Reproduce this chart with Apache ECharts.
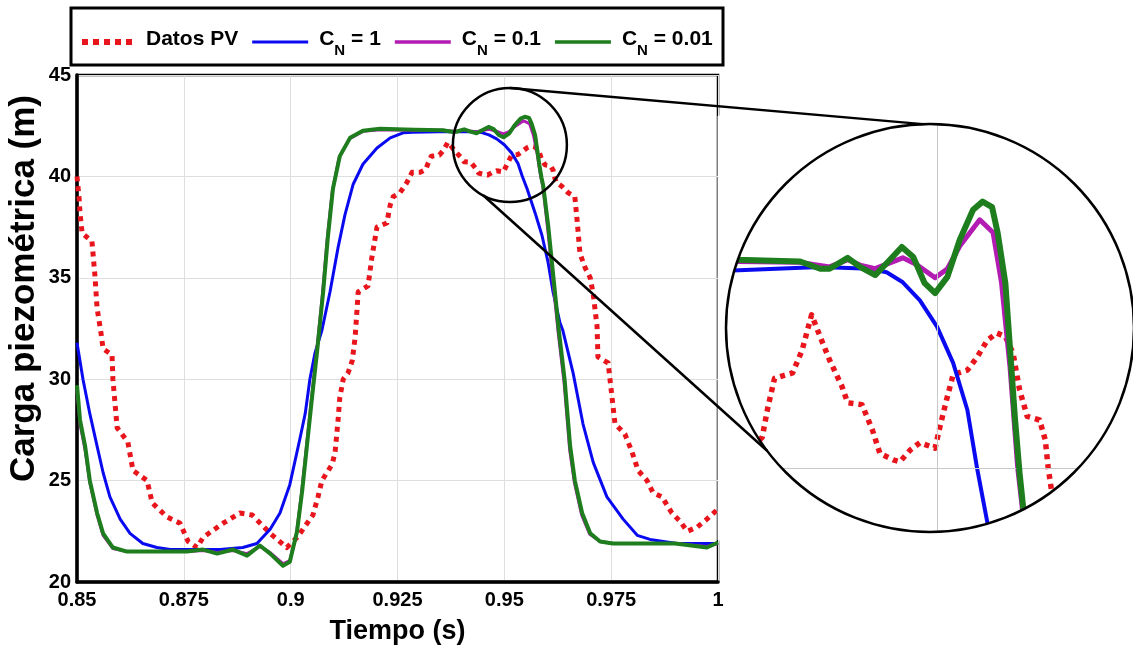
<!DOCTYPE html>
<html><head><meta charset="utf-8">
<script src="https://cdn.jsdelivr.net/npm/echarts@6/dist/echarts.min.js"></script>
<style>html,body{margin:0;padding:0;background:#fff}#c{width:1133px;height:645px}</style>
</head><body><div id="c"></div>
<script>
// ---------------- data ----------------
const seriesNames = ['Datos PV', 'C_N = 1', 'C_N = 0.1', 'C_N = 0.01'];
const xTicks = [0.85, 0.875, 0.9, 0.925, 0.95, 0.975, 1];
const yTicks = [20, 25, 30, 35, 40, 45];

const tPV = [0.85,0.8505,0.8507,0.8512,0.8535,0.8542,0.8547,0.8556,0.8561,0.8582,0.8584,0.8594,0.8619,0.8631,0.8664,0.8676,0.8711,0.8741,0.876,0.8781,0.8795,0.8842,0.8881,0.891,0.8952,0.8991,0.9015,0.9022,0.9052,0.9064,0.9073,0.9097,0.9104,0.9111,0.9115,0.9123,0.9134,0.9144,0.9151,0.9158,0.9181,0.919,0.9202,0.9225,0.9233,0.924,0.9256,0.9272,0.9284,0.9303,0.9316,0.9322,0.9329,0.9348,0.9358,0.9368,0.9377,0.9387,0.94,0.9406,0.9421,0.9432,0.944,0.9454,0.9461,0.9472,0.9482,0.9498,0.9503,0.951,0.9517,0.9532,0.9542,0.9553,0.9563,0.9572,0.958,0.9587,0.9595,0.9608,0.9614,0.9617,0.9621,0.9635,0.9649,0.9665,0.967,0.9677,0.9689,0.9701,0.9708,0.9717,0.9719,0.9743,0.9752,0.9759,0.9782,0.9799,0.9813,0.9834,0.9848,0.9869,0.9892,0.9911,0.9928,0.9951,0.9974,1.0];
const vPV = [40.0,38.9,38.2,37.2,36.8,35.1,33.5,32.3,31.5,31.2,30.0,27.6,26.9,25.5,25.0,23.9,23.2,22.9,22.0,21.7,22.2,22.9,23.4,23.3,22.4,21.7,22.2,22.4,23.3,24.2,25.0,25.8,26.4,28.0,29.1,30.0,30.3,30.9,32.1,34.3,34.6,36.0,37.5,37.7,38.6,39.0,39.2,39.7,40.2,40.2,40.34,40.67,40.99,41.05,41.3,41.69,41.45,41.19,40.9,40.72,40.7,40.42,40.16,40.09,40.07,40.2,40.28,40.22,40.45,40.75,41.03,41.08,41.22,41.41,41.49,41.45,41.27,40.86,40.57,40.53,40.31,40.01,39.72,39.5,39.2,39.0,37.9,36.2,35.5,35.0,34.2,32.6,31.1,30.8,29.1,27.8,27.3,26.4,25.5,25.0,24.4,24.2,23.4,23.0,22.5,22.7,23.1,23.6];

const tCN1 = [0.85,0.8514,0.853,0.8547,0.8561,0.8577,0.8601,0.8624,0.8654,0.8687,0.8718,0.8835,0.8888,0.8921,0.8952,0.8975,0.8998,0.9022,0.9034,0.9045,0.9057,0.9073,0.9092,0.9111,0.9127,0.9146,0.9169,0.9202,0.9233,0.9263,0.9285,0.9377,0.9429,0.9447,0.9464,0.9482,0.95,0.9517,0.9532,0.9542,0.9553,0.9572,0.9588,0.9602,0.9614,0.963,0.9637,0.9661,0.9684,0.9708,0.974,0.9778,0.9811,0.9841,0.9904,1.0];
const vCN1 = [31.8,30.0,28.3,26.7,25.4,24.2,23.1,22.4,21.9,21.7,21.6,21.6,21.7,21.9,22.6,23.4,24.8,27.1,28.3,30.0,31.3,32.4,34.3,36.5,38.1,39.6,40.6,41.4,41.9,42.15,42.18,42.22,42.2,42.16,42.05,41.85,41.56,41.16,40.64,40.01,39.4,38.2,37.1,35.8,34.3,32.8,32.4,30.3,27.8,25.9,24.2,23.1,22.3,22.1,21.9,21.9];

const tCN01 = [0.85,0.8507,0.8519,0.853,0.8547,0.8561,0.8584,0.8617,0.8757,0.8795,0.8828,0.8865,0.8898,0.8928,0.8952,0.8982,0.8998,0.9013,0.9025,0.9036,0.9048,0.906,0.9074,0.9085,0.9097,0.9113,0.9137,0.9169,0.9209,0.9289,0.9356,0.9387,0.9406,0.9419,0.9435,0.9447,0.9464,0.9478,0.9498,0.9511,0.9524,0.9545,0.9559,0.9568,0.9577,0.9585,0.959,0.9602,0.9614,0.9626,0.964,0.9653,0.9664,0.9681,0.97,0.9724,0.9754,0.99,0.9974,1.0];
const vCN01 = [29.5,27.8,26.5,24.9,23.3,22.3,21.65,21.5,21.5,21.55,21.45,21.55,21.4,21.75,21.45,20.9,21.05,22.3,24.3,26.5,28.9,31.2,34.1,36.8,39.2,40.9,41.85,42.22,42.3,42.28,42.27,42.22,42.3,42.24,42.2,42.25,42.32,42.25,42.1,42.2,42.45,42.74,42.6,42.04,41.1,40.0,39.54,37.3,34.8,32.3,29.8,26.5,24.9,23.3,22.35,22.0,21.9,21.9,21.75,21.9];

const tCN001 = [0.85,0.8507,0.8519,0.853,0.8547,0.8561,0.8584,0.8617,0.8757,0.8795,0.8828,0.8865,0.8898,0.8928,0.8952,0.8982,0.8998,0.9015,0.9027,0.9038,0.905,0.9062,0.9076,0.9087,0.9099,0.9115,0.9139,0.9169,0.9209,0.9289,0.9356,0.9377,0.9387,0.9406,0.9419,0.9435,0.9447,0.9463,0.9475,0.9487,0.9498,0.9511,0.9524,0.9538,0.9548,0.9558,0.9564,0.9572,0.9577,0.9582,0.9587,0.9591,0.9603,0.9615,0.9627,0.9641,0.9654,0.9665,0.9682,0.9701,0.9724,0.9754,0.99,0.9974,1.0];
const vCN001 = [29.7,28.0,26.7,25.0,23.4,22.4,21.7,21.5,21.5,21.6,21.4,21.6,21.3,21.8,21.4,20.8,21.0,22.5,24.5,26.7,29.1,31.4,34.3,37.0,39.4,41.0,41.9,42.25,42.35,42.3,42.28,42.2,42.2,42.32,42.22,42.13,42.26,42.44,42.33,42.04,41.93,42.11,42.52,42.85,42.94,42.88,42.59,42.04,41.3,40.56,39.94,39.54,37.5,35.0,32.5,30.0,26.7,25.0,23.4,22.4,22.0,21.9,21.9,21.7,21.95];

// zoomed region shown in the magnifier
const insetX = [0.92779, 0.97074];
const insetY = [39.294, 43.797];
const zoomCenter = [0.9513, 41.55];

// ---------------- chart ----------------
const FONT = '"Liberation Sans", Arial, Helvetica, sans-serif';
const zip = (t, v) => t.map((x, i) => [x, v[i]]);
const data = [zip(tPV, vPV), zip(tCN1, vCN1), zip(tCN01, vCN01), zip(tCN001, vCN001)];
const colors = ['#e8161c', '#0a0af0', '#b21cb2', '#1e7e1e'];
const widthsMain = [5, 3, 3, 4];
const widthsInset = [5.5, 4, 5, 6];
const types = [[5, 5], 'solid', 'solid', 'solid'];

// legend icons (line-only samples)
const tiny = ' M0,0h0.01v0.01h-0.01z M0,7h0.01v-0.01h-0.01z';
const dotIcon = 'path://M0,0.5h6v6h-6z M11,0.5h6v6h-6z M22,0.5h6v6h-6z M33,0.5h6v6h-6z M44,0.5h6v6h-6z M50,0h0.01v0.01z M50,7h0.01v-0.01z';
const lineIcon = w => 'path://M0,' + (3.5 - w / 2) + 'h56v' + w + 'h-56z M56,0h0.01v0.01h-0.01z' + tiny;
const icons = [dotIcon, lineIcon(3), lineIcon(3.5), lineIcon(3.5)];

const chart = echarts.init(document.getElementById('c'), null, {renderer: 'canvas'});

const series = [];
[0, 1].forEach(g => {
  seriesNames.forEach((name, i) => {
    series.push({
      name, type: 'line', xAxisIndex: g, yAxisIndex: g,
      data: data[i], symbol: 'none', smooth: false, clip: true,
      z: 2 + i, silent: true, animation: false,
      lineStyle: {color: colors[i], width: g ? widthsInset[i] : widthsMain[i], type: types[i], cap: 'butt', join: 'round'},
      itemStyle: {color: colors[i]}
    });
  });
});
series.push({
  type: 'line', xAxisIndex: 1, yAxisIndex: 1, data: [], z: 1, silent: true, animation: false,
  markLine: {silent: true, symbol: 'none', label: {show: false}, animation: false,
    lineStyle: {color: '#c8c8c8', width: 1, type: 'solid'},
    data: [{xAxis: xTicks[4]}, {yAxis: yTicks[4]}]}
});

const richText = {
  a: {fontFamily: FONT, fontSize: 21, fontWeight: 'bold', color: '#000', lineHeight: 26, verticalAlign: 'top'},
  s: {fontFamily: FONT, fontSize: 15, fontWeight: 'bold', color: '#000', lineHeight: 15, padding: [14, 0, 0, 0], verticalAlign: 'top'},
  g: {width: 6}
};

chart.setOption({
  animation: false,
  backgroundColor: '#fff',
  legend: {
    data: seriesNames.map((name, i) => ({name, icon: icons[i], itemStyle: {color: colors[i]}})),
    left: 82, top: 29, padding: 0, itemWidth: 56, itemHeight: 7, itemGap: 14,
    selectedMode: false,
    formatter: name => {
      if (name.indexOf('C_N') === 0) return '{g|}{a|C}{s|N}{a| = ' + name.split('= ')[1] + '}';
      return '{g|}{a|' + name + '}';
    },
    textStyle: {rich: richText, fontFamily: FONT, fontSize: 21, fontWeight: 'bold', color: '#000'}
  },
  grid: [
    {left: 77, right: 415, top: 75, bottom: 63, show: true, borderColor: '#000', borderWidth: 2.5,
     backgroundColor: 'transparent', containLabel: false, outerBoundsMode: 'none'},
    {left: 726, top: 124, width: 408, height: 408, show: false, containLabel: false, outerBoundsMode: 'none'}
  ],
  xAxis: [
    {type: 'value', gridIndex: 0, min: xTicks[0], max: xTicks[xTicks.length - 1], interval: 0.025,
     name: 'Tiempo (s)', nameLocation: 'middle', nameGap: 36,
     nameTextStyle: {fontFamily: FONT, fontSize: 27, fontWeight: 'bold', color: '#000'},
     axisLine: {show: true, onZero: false, lineStyle: {color: '#000', width: 3.5}},
     axisTick: {show: false},
     axisLabel: {fontFamily: FONT, fontSize: 20, fontWeight: 'bold', color: '#000', margin: 8,
       formatter: v => String(Math.round(v * 1000) / 1000)},
     splitLine: {show: true, lineStyle: {color: '#dedede', width: 1}}},
    {type: 'value', gridIndex: 1, min: insetX[0], max: insetX[1], show: false, splitLine: {show: false}}
  ],
  yAxis: [
    {type: 'value', gridIndex: 0, min: yTicks[0], max: yTicks[yTicks.length - 1], interval: 5,
     name: 'Carga piezométrica (m)', nameLocation: 'middle', nameGap: 35, nameMoveOverlap: false,
     nameTextStyle: {fontFamily: FONT, fontSize: 35, fontWeight: 'bold', color: '#000', padding: [0, 0, 0, 80]},
     axisLine: {show: true, onZero: false, lineStyle: {color: '#000', width: 3.5}},
     axisTick: {show: false},
     axisLabel: {fontFamily: FONT, fontSize: 20, fontWeight: 'bold', color: '#000', margin: 6},
     splitLine: {show: true, lineStyle: {color: '#dedede', width: 1}}},
    {type: 'value', gridIndex: 1, min: insetY[0], max: insetY[1], show: false, splitLine: {show: false}}
  ],
  series
});

// magnifier annotation
const small = chart.convertToPixel({gridIndex: 0}, zoomCenter);
const rs = 57;
const big = [930, 328], rb = 204;
const gl = 726, gt = 124, gr = 1134, gb = 532, e = 8;
const pt = (c, r, deg) => [c[0] + r * Math.cos(deg * Math.PI / 180), c[1] + r * Math.sin(deg * Math.PI / 180)];
const arc = (a0, a1) => { const p = []; for (let k = 0; k <= 45; k++) p.push(pt(big, rb, a0 + (a1 - a0) * k / 45)); return p; };
const masks = [
  [[gl - e, gt - e], [gl - e, big[1]], ...arc(180, 270), [big[0], gt - e]],
  [[big[0], gt - e], ...arc(270, 360), [gr + e, big[1]], [gr + e, gt - e]],
  [[gr + e, big[1]], ...arc(0, 90), [big[0], gb + e], [gr + e, gb + e]],
  [[big[0], gb + e], ...arc(90, 180), [gl - e, big[1]], [gl - e, gb + e]]
];
const a1 = pt(small, rs, -90), b1 = pt(big, rb, -92);
const a2 = pt(small, rs, 118), b2 = pt(big, rb, 143);

const graphic = [];
masks.forEach(m => graphic.push({type: 'polygon', z: 100, silent: true, shape: {points: m}, style: {fill: '#fff', stroke: '#fff', lineWidth: 1}}));
graphic.push({type: 'circle', z: 110, silent: true, shape: {cx: big[0], cy: big[1], r: rb}, style: {fill: null, stroke: '#000', lineWidth: 2.5}});
graphic.push({type: 'circle', z: 110, silent: true, shape: {cx: small[0], cy: small[1], r: rs}, style: {fill: null, stroke: '#000', lineWidth: 2.5}});
graphic.push({type: 'line', z: 110, silent: true, shape: {x1: a1[0], y1: a1[1], x2: b1[0], y2: b1[1]}, style: {stroke: '#000', lineWidth: 2.5}});
graphic.push({type: 'line', z: 110, silent: true, shape: {x1: a2[0], y1: a2[1], x2: b2[0], y2: b2[1]}, style: {stroke: '#000', lineWidth: 2.5}});
graphic.push({type: 'rect', z: 110, silent: true, shape: {x: 71, y: 8, width: 652, height: 57}, style: {fill: null, stroke: '#000', lineWidth: 3}});
chart.setOption({graphic});
</script>
</body></html>
